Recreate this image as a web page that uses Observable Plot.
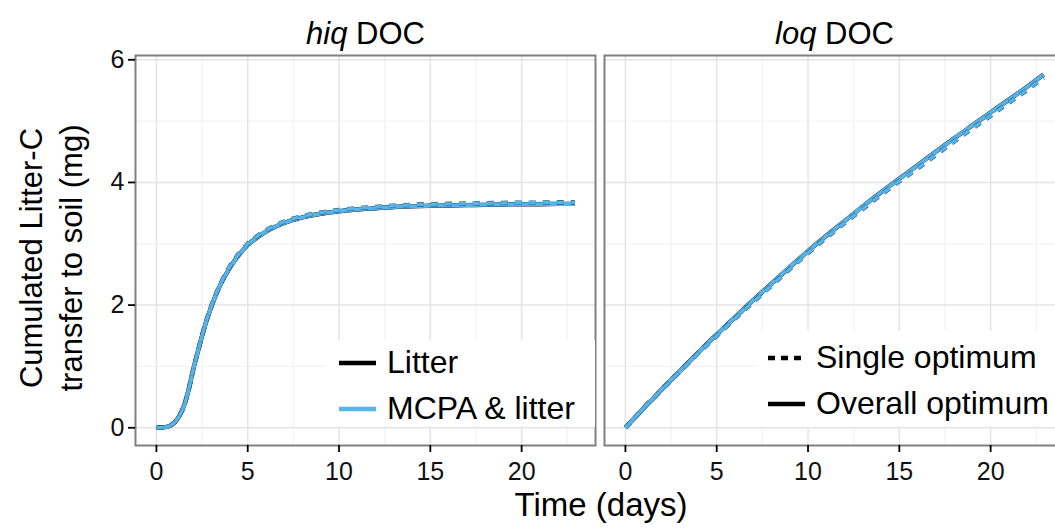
<!DOCTYPE html>
<html><head><meta charset="utf-8">
<script src="https://cdn.jsdelivr.net/npm/d3@7"></script>
<script src="https://cdn.jsdelivr.net/npm/@observablehq/plot@0.6"></script>
<style>
body{margin:0;background:#fff;overflow:hidden;}
#wrap{position:relative;width:1055px;height:528px;overflow:hidden;background:#fff;font-family:"Liberation Sans",Arial,Helvetica,sans-serif;}
#wrap > svg{position:absolute;left:0;top:0;max-width:none !important;}
.ov{position:absolute;color:#000;white-space:nowrap;}
.leg{position:absolute;background:#fff;}
.item{position:absolute;height:40px;line-height:40px;font-size:32px;white-space:nowrap;}
.item svg{vertical-align:middle;margin-right:11px;position:relative;top:-2px;}
</style></head><body><div id="wrap"></div>
<script>
// ---- data ----
const panels = ["hiq", "loq"];
const treatments = ["Litter", "MCPA & litter"];
const optima = ["Single optimum", "Overall optimum"];
const treatmentColors = ["#000000", "#56B4E9"];
const days = [0, 0.5, 1, 1.25, 1.5, 1.75, 2, 2.25, 2.5, 2.75, 3, 3.5, 4, 4.5, 5, 5.5, 6, 7, 8, 9, 10, 11, 12, 13, 14, 15, 16, 17, 18, 19, 20, 21, 22, 22.9];
const hiqOverall = [0, 0.01, 0.09, 0.19, 0.35, 0.6, 0.93, 1.22, 1.5, 1.75, 1.97, 2.33, 2.6, 2.81, 2.98, 3.1, 3.2, 3.34, 3.43, 3.49, 3.53, 3.56, 3.58, 3.6, 3.61, 3.62, 3.625, 3.63, 3.635, 3.64, 3.645, 3.645, 3.65, 3.65];
const hiqSingle  = [0, 0.01, 0.09, 0.19, 0.35, 0.6, 0.93, 1.22, 1.5, 1.76, 1.98, 2.34, 2.62, 2.83, 3.0, 3.12, 3.22, 3.36, 3.45, 3.51, 3.55, 3.58, 3.6, 3.62, 3.635, 3.645, 3.65, 3.655, 3.66, 3.665, 3.67, 3.67, 3.675, 3.675];
const loqOverall = [0, 0.16, 0.32, 0.4, 0.47, 0.55, 0.63, 0.71, 0.78, 0.86, 0.93, 1.08, 1.23, 1.38, 1.52, 1.66, 1.8, 2.08, 2.35, 2.62, 2.88, 3.13, 3.37, 3.61, 3.84, 4.06, 4.28, 4.5, 4.72, 4.93, 5.14, 5.35, 5.56, 5.76];
const loqSingle  = [0, 0.16, 0.32, 0.4, 0.47, 0.55, 0.62, 0.7, 0.77, 0.85, 0.92, 1.07, 1.22, 1.36, 1.5, 1.64, 1.78, 2.05, 2.32, 2.59, 2.85, 3.1, 3.34, 3.57, 3.8, 4.02, 4.23, 4.45, 4.67, 4.88, 5.09, 5.3, 5.51, 5.71];
const xMajor = [0, 5, 10, 15, 20];
const xMinor = [2.5, 7.5, 12.5, 17.5, 22.5];
const yMajor = [0, 2, 4, 6];
const yMinor = [1, 3, 5];

// ---- table built from the arrays ----
const seriesValues = {
  hiq: {"Single optimum": hiqSingle, "Overall optimum": hiqOverall},
  loq: {"Single optimum": loqSingle, "Overall optimum": loqOverall}
};
const rows = [];
for (const panel of panels)
  for (const treatment of treatments)
    for (const optimum of optima)
      seriesValues[panel][optimum].forEach((v, i) =>
        rows.push({panel, treatment, optimum, t: days[i], v, key: panel + treatment + optimum}));

const sel = (tr, op) => rows.filter(d => d.treatment === tr && d.optimum === op);
const lineOpts = (color, w, dash) => ({x: "t", y: "v", fx: "panel", z: "key", stroke: color, strokeWidth: w,
  curve: "monotone-x", strokeDasharray: dash, strokeLinecap: "butt", strokeLinejoin: "round"});

const chart = Plot.plot({
  width: 1064, height: 528,
  marginLeft: 135, marginRight: 0, marginTop: 55, marginBottom: 83,
  style: {fontFamily: "'Liberation Sans', Arial, Helvetica, sans-serif", background: "white", color: "#000", overflow: "visible", maxWidth: "none"},
  fx: {domain: panels, paddingInner: 0.0192, paddingOuter: 0, label: null},
  x: {domain: [-1.145, 24.045]},
  y: {domain: [-0.289, 6.07]},
  marks: [
    Plot.gridX({ticks: xMinor, stroke: "#f3f3f3", strokeOpacity: 1, strokeWidth: 1.3}),
    Plot.gridY({ticks: yMinor, stroke: "#f3f3f3", strokeOpacity: 1, strokeWidth: 1.3}),
    Plot.gridX({ticks: xMajor, stroke: "#e4e4e4", strokeOpacity: 1, strokeWidth: 1.5}),
    Plot.gridY({ticks: yMajor, stroke: "#e4e4e4", strokeOpacity: 1, strokeWidth: 1.5}),
    Plot.line(sel(treatments[0], optima[1]), lineOpts(treatmentColors[0], 4.4, null)),
    Plot.line(sel(treatments[1], optima[1]), lineOpts(treatmentColors[1], 4.0, null)),
    Plot.line(sel(treatments[0], optima[0]), lineOpts("#2a5f80", 4.6, "7,7")),
    Plot.line(sel(treatments[1], optima[0]), lineOpts(treatmentColors[1], 3.4, "7,7")),
    Plot.frame({stroke: "#808080", strokeWidth: 2}),
    Plot.axisX({ticks: xMajor, tickSize: 7, tickPadding: 10, fontSize: 25, label: null, strokeWidth: 1.8, fill: "#111", tickFormat: d => String(d)}),
    Plot.axisY({ticks: yMajor, tickSize: 7, tickPadding: 4, fontSize: 25, label: null, strokeWidth: 1.8, fill: "#111", tickFormat: d => String(d)}),
    Plot.axisFx({anchor: "top", tickSize: 0, tickPadding: 12, fontSize: 31, label: null, tickFormat: d => d + " DOC"})
  ]
});

// italic first word of facet titles
const NS = "http://www.w3.org/2000/svg";
chart.querySelectorAll("text").forEach(t => {
  const s = t.textContent;
  if (/ DOC$/.test(s) && !t.querySelector("tspan")) {
    t.textContent = "";
    t.setAttribute("style", "white-space:pre");
    const a = document.createElementNS(NS, "tspan");
    a.setAttribute("font-style", "italic");
    a.textContent = s.split(" ")[0];
    const b = document.createElementNS(NS, "tspan");
    b.textContent = " DOC";
    t.append(a, b);
  }
});

const wrap = document.getElementById("wrap");
wrap.appendChild(chart);

function swatch(color, dash) {
  return `<svg width="37" height="8"><line x1="0" x2="37" y1="4" y2="4" stroke="${color}" stroke-width="4.5" ${dash ? 'stroke-dasharray="7,6"' : ''}/></svg>`;
}
function legend(left, top, w, h, items) {
  const box = document.createElement("div");
  box.className = "leg";
  Object.assign(box.style, {left: left + "px", top: top + "px", width: w + "px", height: h + "px"});
  wrap.appendChild(box);
  items.forEach(it => {
    const d = document.createElement("div");
    d.className = "item";
    Object.assign(d.style, {left: it.x + "px", top: (it.cy - 20) + "px"});
    d.innerHTML = swatch(it.color, it.dash) + `<span>${it.label}</span>`;
    wrap.appendChild(d);
  });
}
legend(324, 340, 271, 87, [
  {x: 339, cy: 362, color: treatmentColors[0], dash: false, label: treatments[0]},
  {x: 339, cy: 408, color: treatmentColors[1], dash: false, label: "MCPA &amp; litter"}
]);
legend(758, 331, 306, 96, [
  {x: 768, cy: 357, color: "#000", dash: true, label: optima[0]},
  {x: 768, cy: 403, color: "#000", dash: false, label: optima[1]}
]);

const xt = document.createElement("div");
xt.className = "ov";
xt.textContent = "Time (days)";
Object.assign(xt.style, {left: "601px", top: "505px", transform: "translate(-50%,-50%)", fontSize: "33px", lineHeight: "38px"});
wrap.appendChild(xt);

const yt = document.createElement("div");
yt.className = "ov";
yt.innerHTML = "Cumulated Litter-C<br>transfer to soil (mg)";
Object.assign(yt.style, {left: "52px", top: "258px", transform: "translate(-50%,-50%) rotate(-90deg)", fontSize: "31px", lineHeight: "40px", textAlign: "center"});
wrap.appendChild(yt);
</script></body></html>
